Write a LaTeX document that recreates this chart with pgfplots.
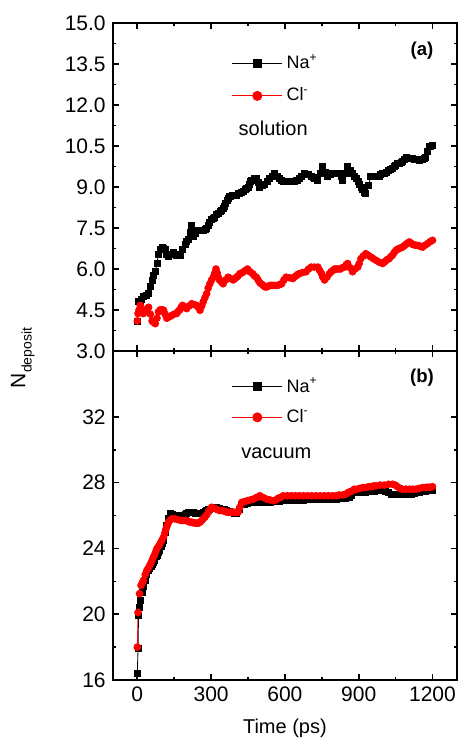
\documentclass[border=0pt]{standalone}
\usepackage{pgfplots}
\pgfplotsset{compat=1.18}
\usepackage{fontspec}
\setmainfont{Liberation Sans}

\pgfplotsset{
  panel/.style={
    scale only axis,
    width=172.2pt,
    xmin=-100, xmax=1300,
    xtick={0,300,...,1200},
    minor x tick num=1,
    minor y tick num=1,
    tick align=inside,
    major tick length=3pt,
    minor tick length=1.6pt,
    every tick/.style={black, line width=0.8pt},
    axis line style={line width=1pt},
    tick label style={font=\fontsize{10.5}{12}\selectfont},
    /pgf/number format/assume math mode=true,
    /pgf/number format/1000 sep={},
    legend cell align=left,
    legend style={draw=none, fill=none, font=\fontsize{9}{10}\selectfont,
      inner sep=0pt, row sep=4pt},
    legend image code/.code={
      \draw[mark repeat=2, mark phase=2, #1, every mark/.append style={scale=1.35}]
        plot coordinates {(0pt,0pt) (12.5pt,0pt) (25pt,0pt)};
    },
  },
  na/.style={black, line width=0.4pt, mark=square*, mark size=1.5pt, mark options={solid, fill=black}},
  cl/.style={red, line width=0.4pt, mark=*, mark size=1.7pt, mark options={solid, fill=red, draw=red}},
}

\begin{document}
\begin{tikzpicture}

% (a) solution
\begin{axis}[panel,
  name=top, at={(0pt,0pt)}, anchor=north west,
  height=164pt,
  ymin=3, ymax=15,
  ytick={3,4.5,...,15},
  yticklabel style={/pgf/number format/fixed, /pgf/number format/zerofill, /pgf/number format/precision=1},
  xticklabel=\empty,
  legend style={at={(0.345,0.918)}, anchor=north west},
]
\addplot[na] coordinates {
(0,4.1) (3,4.8) (12,4.8) (18,4.9) (25,5.0) (35,5.05) (46,5.1) (53,5.35) (60,5.6) (66,5.75)
(73,5.9) (80,6.2) (86,6.55) (93,6.7) (100,6.8) (106,6.75) (113,6.7) (120,6.55) (127,6.45) (137,6.55)
(147,6.6) (153,6.55) (160,6.5) (167,6.5) (174,6.5) (184,6.7) (194,6.9) (201,7.0) (208,7.1) (214,7.35)
(221,7.6) (228,7.2) (235,7.3) (241,7.4) (248,7.4) (255,7.4) (262,7.4) (268,7.4) (275,7.45) (282,7.5)
(289,7.6) (295,7.7) (302,7.8) (309,7.85) (315,7.9) (322,8.0) (329,8.05) (336,8.1) (343,8.15) (349,8.2)
(355,8.3) (360,8.4) (365,8.5) (369,8.6) (375,8.65) (380,8.65) (385,8.7) (390,8.7) (397,8.7) (404,8.7)
(410,8.75) (417,8.76) (424,8.8) (431,8.85) (438,8.9) (445,8.94) (450,9.0) (455,9.1) (460,9.2) (465,9.25)
(475,9.3) (484,9.3) (491,9.15) (498,9.0) (503,9.05) (508,9.05) (513,9.1) (518,9.1) (528,9.2) (538,9.3)
(548,9.4) (559,9.5) (569,9.4) (579,9.3) (586,9.25) (592,9.2) (599,9.2) (605,9.2) (612,9.2) (619,9.2)
(625,9.2) (632,9.2) (639,9.2) (645,9.25) (652,9.25) (659,9.3) (669,9.4) (680,9.5) (694,9.45) (707,9.37)
(714,9.35) (720,9.3) (727,9.3) (734,9.25) (744,9.5) (754,9.74) (764,9.55) (774,9.37) (784,9.45) (794,9.5)
(808,9.5) (822,9.5) (829,9.4) (835,9.25) (845,9.5) (855,9.74) (865,9.6) (875,9.5) (883,9.4) (890,9.3)
(897,9.2) (903,9.1) (910,9.0) (916,8.9) (922,8.8) (929,8.76) (939,9.05) (949,9.37) (963,9.37) (977,9.37)
(984,9.4) (990,9.45) (997,9.5) (1004,9.5) (1012,9.55) (1020,9.6) (1029,9.65) (1038,9.68) (1045,9.75) (1051,9.8)
(1058,9.85) (1065,9.86) (1072,9.9) (1078,9.95) (1085,10.0) (1092,10.1) (1099,10.05) (1106,10.04) (1112,10.04) (1119,10.04)
(1126,10.0) (1133,10.0) (1140,10.0) (1146,9.98) (1153,10.0) (1160,10.0) (1167,10.05) (1173,10.1) (1180,10.3) (1187,10.47)
(1193,10.5) (1200,10.53)
};
\addlegendentry{Na\textsuperscript{+}}
\addplot[cl] coordinates {
(0,4.1) (3,4.37) (7,4.5) (12,4.67) (18,4.5) (25,4.37) (30,4.45) (35,4.5) (41,4.55) (46,4.6)
(53,4.35) (60,4.1) (66,4.05) (73,4.0) (80,4.2) (86,4.43) (92,4.5) (98,4.5) (103,4.5) (107,4.49)
(113,4.35) (120,4.2) (130,4.25) (140,4.3) (150,4.35) (160,4.37) (166,4.45) (172,4.5) (178,4.6) (184,4.67)
(192,4.6) (201,4.55) (211,4.65) (221,4.73) (231,4.7) (241,4.67) (248,4.6) (255,4.49) (262,4.65) (268,4.8)
(275,4.95) (282,5.1) (288,5.3) (295,5.46) (302,5.6) (309,5.7) (315,5.85) (320,6.0) (325,5.85) (329,5.7)
(334,5.6) (340,5.55) (345,5.5) (349,5.46) (359,5.6) (369,5.7) (379,5.65) (390,5.6) (397,5.65) (404,5.7)
(410,5.75) (417,5.83) (424,5.85) (432,5.9) (440,5.95) (448,6.0) (458,5.9) (469,5.83) (476,5.75) (484,5.7)
(491,5.6) (498,5.5) (505,5.45) (512,5.4) (518,5.35) (525,5.34) (532,5.37) (540,5.4) (546,5.4) (553,5.4)
(561,5.4) (570,5.4) (578,5.43) (587,5.46) (596,5.6) (605,5.7) (618,5.68) (632,5.65) (638,5.7) (645,5.75)
(652,5.8) (659,5.83) (672,5.87) (686,5.9) (696,6.0) (707,6.07) (720,6.07) (734,6.07) (741,5.95) (748,5.85)
(754,5.7) (761,5.6) (771,5.7) (781,5.83) (788,5.9) (795,5.95) (802,6.0) (809,6.0) (817,6.0) (826,6.0)
(834,6.05) (843,6.07) (849,6.15) (855,6.2) (865,6.05) (875,5.9) (885,6.0) (896,6.07) (902,6.2) (909,6.38)
(919,6.48) (929,6.56) (939,6.5) (949,6.44) (959,6.38) (970,6.32) (983,6.25) (997,6.2) (1004,6.25) (1010,6.3)
(1017,6.35) (1024,6.38) (1030,6.45) (1037,6.5) (1044,6.6) (1051,6.68) (1058,6.72) (1065,6.75) (1072,6.78) (1078,6.8)
(1085,6.85) (1092,6.9) (1099,6.95) (1106,6.99) (1112,6.95) (1119,6.9) (1126,6.88) (1133,6.87) (1140,6.86) (1146,6.85)
(1153,6.82) (1160,6.8) (1170,6.87) (1180,6.93) (1190,7.0) (1200,7.05)
};
\addlegendentry{Cl\textsuperscript{-}}
\node[font=\bfseries\fontsize{9.3}{11}\selectfont] at (rel axis cs:0.898,0.915) {(a)};
\node[font=\fontsize{10}{12}\selectfont] at (rel axis cs:0.466,0.680) {solution};
\end{axis}

% (b) vacuum
\begin{axis}[panel,
  name=bot, at={(0pt,-164pt)}, anchor=north west,
  height=164.5pt,
  ymin=16, ymax=36,
  ytick={16,20,...,32},
  xlabel={Time (ps)},
  xlabel style={font=\fontsize{10}{12}\selectfont, yshift=-1.5pt},
  legend style={at={(0.345,0.932)}, anchor=north west, row sep=3pt},
]
\addplot[na] coordinates {
(0,16.4) (3,17.9) (5,19.9) (8,20.4) (12,20.85) (19,21.35) (25,21.7) (32,22.06) (39,22.4) (46,22.67)
(51,22.8) (56,22.9) (61,23.0) (66,23.17) (71,23.3) (76,23.5) (81,23.6) (86,23.78) (91,23.9) (96,24.1)
(101,24.3) (107,24.48) (113,25.0) (120,25.4) (127,25.8) (135,26.1) (141,26.05) (147,26.0) (157,26.0) (167,26.0)
(178,26.0) (188,26.0) (195,26.05) (201,26.1) (208,26.2) (215,26.2) (222,26.2) (228,26.2) (235,26.1) (241,26.1)
(248,26.1) (255,26.1) (262,26.15) (268,26.2) (275,26.25) (282,26.3) (289,26.35) (295,26.4) (308,26.45) (322,26.5)
(332,26.45) (343,26.4) (353,26.35) (363,26.3) (373,26.25) (384,26.2) (394,26.15) (404,26.1) (415,26.4) (425,26.7)
(436,26.7) (448,26.75) (460,26.8) (472,26.8) (486,26.8) (500,26.8) (512,26.8) (525,26.8) (542,26.8) (560,26.85)
(576,26.85) (593,26.9) (610,26.9) (626,26.9) (642,26.9) (659,26.9) (676,26.9) (692,26.95) (709,26.95) (726,27.0)
(743,27.0) (760,27.0) (777,27.0) (794,27.0) (811,27.0) (828,27.05) (845,27.05) (861,27.1) (872,27.25) (882,27.4)
(893,27.4) (905,27.4) (917,27.4) (929,27.4) (946,27.45) (963,27.45) (980,27.5) (997,27.5) (1008,27.45) (1020,27.4)
(1033,27.3) (1045,27.27) (1060,27.27) (1075,27.27) (1090,27.27) (1106,27.27) (1116,27.3) (1126,27.35) (1136,27.4) (1146,27.4)
(1160,27.45) (1173,27.45) (1186,27.5) (1200,27.5)
};
\addlegendentry{Na\textsuperscript{+}}
\addplot[cl] coordinates {
(0,18.0) (3,20.1) (9,21.25) (15,21.75) (20,21.9) (25,22.06) (32,22.4) (39,22.67) (45,22.8) (50,22.95)
(55,23.1) (60,23.27) (65,23.45) (70,23.6) (75,23.8) (80,24.0) (87,24.15) (93,24.3) (100,24.5) (107,24.7)
(112,24.95) (117,25.2) (122,25.4) (127,25.6) (133,25.7) (140,25.8) (152,25.8) (165,25.75) (177,25.7) (188,25.7)
(196,25.7) (205,25.65) (213,25.6) (221,25.6) (228,25.55) (235,25.55) (241,25.53) (248,25.53) (255,25.6) (262,25.7)
(268,25.8) (275,25.9) (282,26.05) (289,26.2) (295,26.35) (302,26.5) (310,26.45) (319,26.4) (327,26.35) (336,26.3)
(346,26.3) (356,26.25) (366,26.2) (376,26.2) (384,26.2) (393,26.2) (401,26.2) (410,26.2) (417,26.5) (425,26.8)
(436,26.85) (448,26.9) (460,26.95) (472,27.0) (485,27.1) (498,27.2) (511,27.1) (525,27.0) (539,26.95) (553,26.9)
(563,26.95) (573,27.05) (583,27.1) (593,27.2) (610,27.2) (626,27.2) (642,27.2) (659,27.2) (676,27.2) (692,27.2)
(709,27.2) (726,27.2) (743,27.2) (760,27.2) (777,27.2) (794,27.2) (808,27.2) (821,27.25) (835,27.25) (848,27.3)
(857,27.4) (865,27.45) (874,27.5) (882,27.6) (893,27.6) (905,27.65) (917,27.7) (929,27.7) (940,27.75) (950,27.75)
(960,27.8) (970,27.8) (987,27.85) (1004,27.85) (1021,27.9) (1038,27.9) (1048,27.85) (1058,27.75) (1068,27.65) (1078,27.6)
(1092,27.6) (1106,27.6) (1120,27.6) (1133,27.6) (1146,27.65) (1160,27.7) (1170,27.7) (1180,27.72) (1190,27.72) (1200,27.75)
};
\addlegendentry{Cl\textsuperscript{-}}
\node[font=\bfseries\fontsize{9.3}{11}\selectfont] at (rel axis cs:0.898,0.918) {(b)};
\node[font=\fontsize{10}{12}\selectfont] at (rel axis cs:0.475,0.690) {vacuum};
\end{axis}

\node[rotate=90, font=\fontsize{10.5}{12}\selectfont] at (-45pt,-167.5pt)
  {N\raisebox{-0.55ex}{\fontsize{7}{8}\selectfont deposit}};

\pgfresetboundingbox
\path[use as bounding box] (-56.35pt,11.5pt) rectangle (173.15pt,-357.5pt);
\end{tikzpicture}
\end{document}
